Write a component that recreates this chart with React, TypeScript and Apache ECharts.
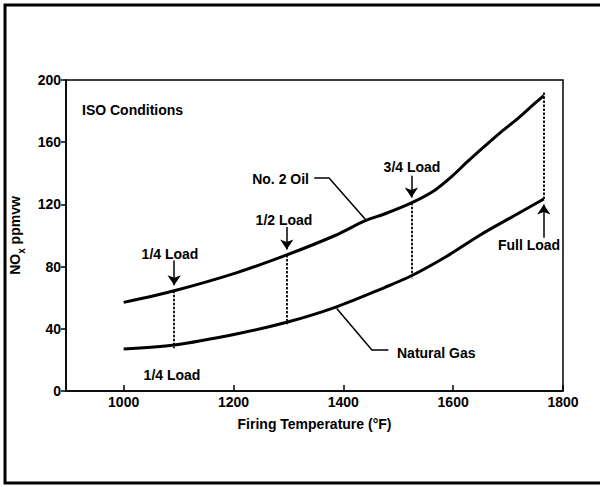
import React, { useEffect, useRef } from 'react';
import * as echarts from 'echarts';

const xTicks = [1000, 1200, 1400, 1600, 1800];
const yTicks = [0, 40, 80, 120, 160, 200];

const oilTemps = [1000, 1092, 1205, 1297, 1385, 1440, 1476, 1524, 1566, 1596, 1626, 1656, 1687, 1717, 1747, 1765];
const oilValues = [57, 64.5, 76, 87.5, 100, 109.5, 114, 121, 129, 137.5, 147.5, 157, 166.5, 175, 184.5, 190];

const gasTemps = [1000, 1092, 1205, 1297, 1385, 1476, 1524, 1590, 1650, 1711, 1765];
const gasValues = [27, 29.6, 36.7, 44.2, 53.8, 66.7, 74.1, 87, 100.5, 112.7, 123.5];

const loadTemps = [1092, 1297, 1524, 1765];
const dashTop = [64.5, 87.5, 121, 192];
const dashBottom = [27.5, 43, 72, 123.5];
const arrowStart = [84, 105.5, 138.5, 98.5];
const arrowEnd = [68, 91, 124.5, 120];

const oilLeader = [[1347, 136.9], [1374, 136.9], [1440, 110.5]];
const gasLeader = [[1388, 53], [1452, 26.4], [1482, 26.4]];

const FONT = '"Liberation Sans", Arial, Helvetica, sans-serif';

export default function App() {
  const ref = useRef<HTMLDivElement>(null);
  useEffect(() => {
    if (!ref.current) return;
    const chart = echarts.init(ref.current, undefined, { renderer: 'svg' });
    const txt = { fontFamily: FONT, fontSize: 14, fontWeight: 'bold' as const, color: '#000' };
    const gtext = (text: string, x: number, y: number, align: string) => ({
      type: 'text',
      x,
      y,
      style: { text, fill: '#000', font: `bold 14px ${FONT}`, align, verticalAlign: 'middle' },
    });
    const option: any = {
      animation: false,
      backgroundColor: '#fff',
      grid: { left: 62, right: 37, top: 80, bottom: 96, show: true, borderColor: '#000', borderWidth: 1.5 },
      xAxis: {
        type: 'value',
        min: 895,
        max: 1800,
        name: 'Firing Temperature (°F)',
        nameLocation: 'middle',
        nameGap: 26,
        nameTextStyle: txt,
        axisLine: { lineStyle: { color: '#000', width: 1.5 } },
        axisTick: { show: true, inside: true, length: 6, customValues: xTicks, lineStyle: { color: '#000', width: 1.5 } },
        axisLabel: { customValues: xTicks, margin: 4, formatter: (v: number) => String(v), ...txt },
        splitLine: { show: false },
      },
      yAxis: {
        type: 'value',
        min: 0,
        max: 200,
        interval: 40,
        name: '{n|NO}{s|x}{n| ppmvw}',
        nameLocation: 'middle',
        nameGap: 40,
        nameTextStyle: {
          ...txt,
          rich: {
            n: { fontFamily: FONT, fontSize: 14, fontWeight: 'bold', color: '#000', lineHeight: 22, verticalAlign: 'middle' },
            s: { fontFamily: FONT, fontSize: 10, fontWeight: 'bold', color: '#000', lineHeight: 22, verticalAlign: 'bottom' },
          },
        },
        axisLine: { show: true, lineStyle: { color: '#000', width: 1.5 } },
        axisTick: { show: true, length: 5, lineStyle: { color: '#000', width: 1.5 } },
        axisLabel: { margin: 5, ...txt, customValues: yTicks, formatter: (v: number) => String(v) },
        splitLine: { show: false },
      },
      series: [
        {
          type: 'line',
          name: 'No. 2 Oil',
          data: oilTemps.map((t, i) => [t, oilValues[i]]),
          smooth: 0.3,
          showSymbol: false,
          lineStyle: { color: '#000', width: 3 },
        },
        {
          type: 'line',
          name: 'Natural Gas',
          data: gasTemps.map((t, i) => [t, gasValues[i]]),
          smooth: 0.3,
          showSymbol: false,
          lineStyle: { color: '#000', width: 3 },
        },
        {
          type: 'lines',
          coordinateSystem: 'cartesian2d',
          symbol: 'none',
          lineStyle: { color: '#000', width: 1.8, type: [2.5, 1.5], opacity: 1 },
          data: loadTemps.map((t, i) => ({ coords: [[t, dashTop[i]], [t, dashBottom[i]]] })),
        },
        {
          type: 'lines',
          coordinateSystem: 'cartesian2d',
          symbol: ['none', 'arrow'],
          symbolSize: [7, 10],
          lineStyle: { color: '#000', width: 1.5, opacity: 1 },
          data: loadTemps.map((t, i) => ({ coords: [[t, arrowStart[i]], [t, arrowEnd[i]]] })),
        },
        {
          type: 'lines',
          coordinateSystem: 'cartesian2d',
          polyline: true,
          symbol: 'none',
          lineStyle: { color: '#000', width: 1.5, opacity: 1 },
          data: [{ coords: oilLeader }, { coords: gasLeader }],
        },
      ],
      graphic: [
        { type: 'rect', shape: { x: 5, y: 5, width: 640, height: 478 }, style: { fill: 'none', stroke: '#000', lineWidth: 3 }, silent: true },
        gtext('ISO Conditions', 82, 110, 'left'),
        gtext('No. 2 Oil', 309, 179, 'right'),
        gtext('1/4 Load', 170, 254, 'center'),
        gtext('1/2 Load', 284, 220, 'center'),
        gtext('3/4 Load', 412, 167, 'center'),
        gtext('Full Load', 529, 245, 'center'),
        gtext('1/4 Load', 172, 375, 'center'),
        gtext('Natural Gas', 397, 353, 'left'),
      ],
    };
    chart.setOption(option);
    return () => chart.dispose();
  }, []);
  return (
    <div
      ref={ref}
      style={{ position: 'fixed', left: 0, top: 0, width: 600, height: 487, background: '#fff' }}
    />
  );
}
